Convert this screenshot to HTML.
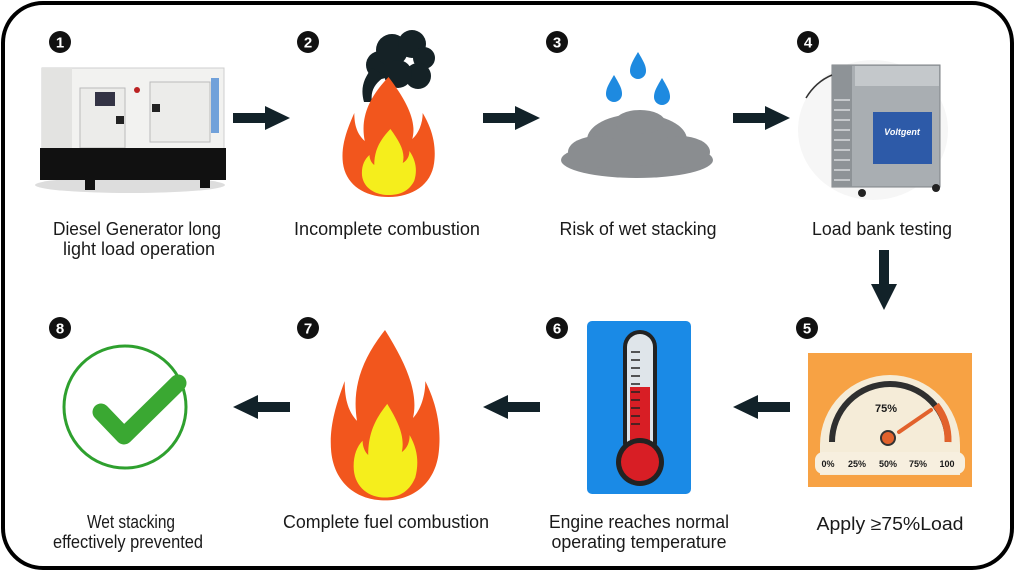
<!DOCTYPE html>
<html><head><meta charset="utf-8"><style>
html,body{margin:0;padding:0;background:#fff;}
svg{display:block;}
text{font-family:"Liberation Sans Narrow","Liberation Sans",sans-serif;fill:#1a1a1a;}
</style></head><body>
<svg width="1015" height="571" viewBox="0 0 1015 571" xmlns="http://www.w3.org/2000/svg">
<defs>
<g id="flame">
<path d="M50,0 C70,25 80,45 75,62 C82,56 86,46 86,36 C98,55 100,72 98,86 C95,108 75,120 50,120 C25,120 5,108 2,86 C0,70 5,55 14,36 C14,50 18,58 25,64 C20,40 30,20 50,0Z" fill="#f2561d"/>
<path d="M52,52 C62,65 68,75 65,86 C70,83 72,79 72,74 C80,85 80,95 77,104 C71,115 61,118 50,118 C35,118 22,110 22,96 C22,88 25,82 30,78 C30,82 32,86 35,88 C35,72 42,62 52,52Z" fill="#f5ee1c"/>
</g>
<g id="arR"><rect x="0" y="-5" width="34" height="10" fill="#122229"/><polygon points="32,-12 57,0 32,12" fill="#122229"/></g>
</defs>
<rect x="3" y="3" width="1009" height="565" rx="40" fill="#fff" stroke="#000" stroke-width="4"/>

<g font-weight="bold" font-size="15" text-anchor="middle">
<circle cx="60" cy="42" r="11" fill="#111"/><text x="60" y="47.5" style="fill:#fff">1</text>
<circle cx="308" cy="42" r="11" fill="#111"/><text x="308" y="47.5" style="fill:#fff">2</text>
<circle cx="557" cy="42" r="11" fill="#111"/><text x="557" y="47.5" style="fill:#fff">3</text>
<circle cx="808" cy="42" r="11" fill="#111"/><text x="808" y="47.5" style="fill:#fff">4</text>
<circle cx="807" cy="328" r="11" fill="#111"/><text x="807" y="333.5" style="fill:#fff">5</text>
<circle cx="557" cy="328" r="11" fill="#111"/><text x="557" y="333.5" style="fill:#fff">6</text>
<circle cx="308" cy="328" r="11" fill="#111"/><text x="308" y="333.5" style="fill:#fff">7</text>
<circle cx="60" cy="328" r="11" fill="#111"/><text x="60" y="333.5" style="fill:#fff">8</text>
</g>

<ellipse cx="130" cy="185" rx="95" ry="8" fill="#ddd"/>
<rect x="42" y="68" width="182" height="84" fill="#f2f2f0" stroke="#cfcfcf"/>
<rect x="42" y="68" width="30" height="84" fill="#e3e3e1"/>
<rect x="80" y="88" width="45" height="60" fill="#ececea" stroke="#bbb"/>
<rect x="150" y="82" width="60" height="60" fill="#ececea" stroke="#bbb"/>
<rect x="95" y="92" width="20" height="14" fill="#334"/>
<circle cx="137" cy="90" r="3" fill="#b22"/>
<rect x="116" y="116" width="8" height="8" fill="#222"/>
<rect x="152" y="104" width="8" height="8" fill="#222"/>
<rect x="211" y="78" width="8" height="55" fill="#3a7fd0" opacity="0.7"/>
<rect x="40" y="148" width="186" height="32" fill="#111"/>
<rect x="85" y="178" width="10" height="12" fill="#111"/><rect x="200" y="178" width="10" height="10" fill="#111"/>

<use href="#arR" x="233" y="118"/>
<use href="#arR" x="483" y="118"/>
<use href="#arR" x="733" y="118"/>

<g fill="#152226">
<circle cx="380" cy="65" r="14"/><circle cx="392" cy="50" r="16"/><circle cx="412" cy="44" r="14"/><circle cx="424" cy="58" r="11"/><circle cx="418" cy="76" r="13"/><circle cx="398" cy="74" r="14"/>
<path d="M372,68 C364,78 360,88 364,102 L372,102 C370,90 376,82 386,76Z"/>
</g>
<use href="#flame" transform="translate(341,77) scale(0.95,1)"/>

<g fill="#1e8ae0">
<path d="M638,52 C644,62 646,66 646,71 A8,8 0 0 1 630,71 C630,66 632,62 638,52Z"/>
<path d="M614,75 C620,85 622,89 622,94 A8,8 0 0 1 606,94 C606,89 608,85 614,75Z"/>
<path d="M662,78 C668,88 670,92 670,97 A8,8 0 0 1 654,97 C654,92 656,88 662,78Z"/>
</g>
<g fill="#8a8d90">
<ellipse cx="637" cy="160" rx="76" ry="18"/>
<ellipse cx="637" cy="140" rx="50" ry="26"/>
<ellipse cx="640" cy="122" rx="25" ry="12"/>
<ellipse cx="598" cy="152" rx="30" ry="16"/><ellipse cx="680" cy="152" rx="30" ry="16"/>
</g>

<ellipse cx="873" cy="130" rx="75" ry="70" fill="#f6f6f6"/>
<rect x="832" y="65" width="108" height="122" fill="#a9aeb2" stroke="#7d8286"/>
<rect x="832" y="65" width="20" height="122" fill="#8e9397"/>
<g stroke="#d8dbdd" stroke-width="1.5">
<line x1="834" y1="100" x2="850" y2="100"/><line x1="834" y1="110" x2="850" y2="110"/><line x1="834" y1="120" x2="850" y2="120"/><line x1="834" y1="130" x2="850" y2="130"/><line x1="834" y1="140" x2="850" y2="140"/><line x1="834" y1="150" x2="850" y2="150"/><line x1="834" y1="160" x2="850" y2="160"/><line x1="834" y1="170" x2="850" y2="170"/><line x1="834" y1="180" x2="850" y2="180"/>
</g>
<rect x="855" y="66" width="84" height="20" fill="#c4c8cb"/>
<rect x="873" y="112" width="59" height="52" fill="#2d5aa8"/>
<text x="902" y="135" text-anchor="middle" font-size="9" font-weight="bold" font-style="italic" style="fill:#fff">Voltgent</text>
<path d="M832,75 C820,80 812,88 806,98" stroke="#333" fill="none" stroke-width="1.5"/>
<circle cx="862" cy="193" r="4" fill="#222"/><circle cx="936" cy="188" r="4" fill="#222"/>

<rect x="879" y="250" width="10" height="36" fill="#122229"/>
<polygon points="871,284 897,284 884,310" fill="#122229"/>

<rect x="808" y="353" width="164" height="134" fill="#f7a244"/>
<path d="M820,475 L820,445 A70,70 0 0 1 960,445 L960,475 Z" fill="#f5ecd8"/>
<path d="M832,442 A58,58 0 0 1 948,442" fill="none" stroke="#2f2f2f" stroke-width="6"/>
<path d="M936,405 A58,58 0 0 1 948,442" fill="none" stroke="#e2622c" stroke-width="7"/>
<rect x="815" y="452" width="150" height="22" rx="8" fill="#f7efdf"/>
<line x1="899" y1="432" x2="931" y2="410" stroke="#e2622c" stroke-width="4" stroke-linecap="round"/>
<circle cx="888" cy="438" r="7" fill="#e2622c" stroke="#333" stroke-width="2"/>
<g font-size="9" font-weight="bold" style="fill:#333" text-anchor="middle">
<text x="886" y="412" font-size="11">75%</text>
<text x="828" y="467">0%</text><text x="857" y="467">25%</text><text x="888" y="467">50%</text><text x="918" y="467">75%</text><text x="947" y="467">100</text>
</g>

<use href="#arR" transform="translate(790,407) scale(-1,1)"/>
<use href="#arR" transform="translate(540,407) scale(-1,1)"/>
<use href="#arR" transform="translate(290,407) scale(-1,1)"/>

<rect x="587" y="321" width="104" height="173" rx="5" fill="#1a8ae6"/>
<rect x="623" y="330" width="34" height="130" rx="17" fill="#222"/>
<rect x="627" y="334" width="26" height="124" rx="13" fill="#dfe5ea"/>
<rect x="630" y="387" width="20" height="70" fill="#d81e25"/>
<circle cx="640" cy="462" r="24" fill="#222"/>
<circle cx="640" cy="462" r="19" fill="#d81e25"/>
<g stroke="#222" stroke-width="1.5">
<line x1="631" y1="352" x2="640" y2="352"/><line x1="631" y1="360" x2="640" y2="360"/><line x1="631" y1="368" x2="640" y2="368"/><line x1="631" y1="376" x2="640" y2="376"/><line x1="631" y1="384" x2="640" y2="384"/><line x1="631" y1="392" x2="640" y2="392"/><line x1="631" y1="400" x2="640" y2="400"/><line x1="631" y1="408" x2="640" y2="408"/><line x1="631" y1="416" x2="640" y2="416"/><line x1="631" y1="424" x2="640" y2="424"/>
</g>

<use href="#flame" transform="translate(329,330) scale(1.12,1.42)"/>

<circle cx="125" cy="407" r="61" fill="none" stroke="#2ea02e" stroke-width="3"/>
<polyline points="101,412 124,436 178,383" fill="none" stroke="#3aa832" stroke-width="17" stroke-linejoin="round" stroke-linecap="round"/>

<g font-size="18" text-anchor="middle">
<text x="137" y="235" textLength="168" lengthAdjust="spacingAndGlyphs">Diesel Generator long</text>
<text x="139" y="255" textLength="152" lengthAdjust="spacingAndGlyphs">light load operation</text>
<text x="387" y="235" textLength="186" lengthAdjust="spacingAndGlyphs">Incomplete combustion</text>
<text x="638" y="235" textLength="157" lengthAdjust="spacingAndGlyphs">Risk of wet stacking</text>
<text x="882" y="235" textLength="140" lengthAdjust="spacingAndGlyphs">Load bank testing</text>
<text x="890" y="530" textLength="147" lengthAdjust="spacingAndGlyphs">Apply ≥75%Load</text>
<text x="639" y="528" textLength="180" lengthAdjust="spacingAndGlyphs">Engine reaches normal</text>
<text x="639" y="548" textLength="175" lengthAdjust="spacingAndGlyphs">operating temperature</text>
<text x="386" y="528" textLength="206" lengthAdjust="spacingAndGlyphs">Complete fuel combustion</text>
<text x="131" y="528" textLength="88" lengthAdjust="spacingAndGlyphs">Wet stacking</text>
<text x="128" y="548" textLength="150" lengthAdjust="spacingAndGlyphs">effectively prevented</text>
</g>
</svg>
</body></html>
